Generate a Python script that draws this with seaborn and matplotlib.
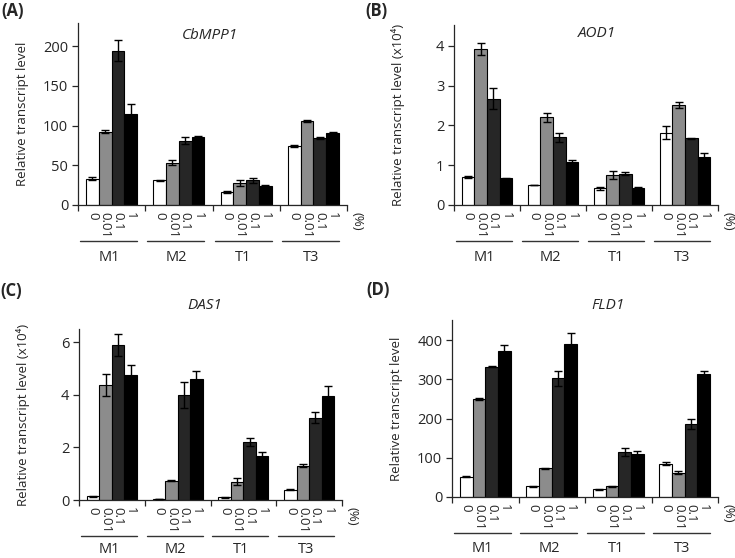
import numpy as np
import pandas as pd
import matplotlib
matplotlib.use("Agg")
import matplotlib.pyplot as plt
import matplotlib.transforms as mtransforms
import seaborn as sns

# ---------------- data ----------------
groups = ["M1", "M2", "T1", "T3"]
concs = ["0", "0.01", "0.1", "1"]
bar_colors = ["#ffffff", "#8c8c8c", "#262626", "#000000"]

cbmpp1_mean = [33, 92, 194, 114, 31, 53, 81, 85.5, 16.5, 27.5, 31, 24, 74, 106, 84, 91]
cbmpp1_err = [2, 2, 13, 13, 1, 3, 4, 1.5, 1, 4, 3, 1, 1, 1, 1, 1]
aod1_mean = [0.70, 3.92, 2.67, 0.67, 0.50, 2.20, 1.70, 1.07, 0.42, 0.75, 0.79, 0.42, 1.82, 2.51, 1.67, 1.20]
aod1_err = [0.03, 0.15, 0.27, 0.02, 0.01, 0.11, 0.12, 0.07, 0.04, 0.10, 0.04, 0.02, 0.17, 0.08, 0.02, 0.10]
das1_mean = [0.14, 4.37, 5.90, 4.75, 0.03, 0.74, 4.00, 4.60, 0.10, 0.70, 2.20, 1.68, 0.39, 1.31, 3.13, 3.97]
das1_err = [0.01, 0.42, 0.42, 0.37, 0.01, 0.01, 0.50, 0.30, 0.01, 0.13, 0.15, 0.15, 0.01, 0.04, 0.22, 0.35]
fld1_mean = [52, 250, 332, 373, 27, 73, 302, 390, 20, 27, 115, 110, 85, 62, 187, 313]
fld1_err = [1, 3, 1, 14, 1, 1, 20, 27, 1, 1, 10, 7, 3, 3, 13, 8]

ylabel_plain = "Relative transcript level"
ylabel_e4 = "Relative transcript level (x10\u2074)"

# ---------------- style ----------------
sns.set_style("ticks")
plt.rcParams["font.family"] = ["Open Sans", "DejaVu Sans"]
plt.rcParams["axes.linewidth"] = 0.9

W, H = 735, 558
fig = plt.figure(figsize=(W / 100, H / 100), dpi=100)

panels = [
    dict(mean=cbmpp1_mean, err=cbmpp1_err, box=(78, 347, 23, 205), ylim=229,
         yticks=[0, 50, 100, 150, 200], ylabel=ylabel_plain, title="CbMPP1",
         tpos=(0.49, 0.934), tag="(A)", tagpos=(1, 11), glab=-37.5),
    dict(mean=aod1_mean, err=aod1_err, box=(454, 718, 25, 205), ylim=4.52,
         yticks=[0, 1, 2, 3, 4], ylabel=ylabel_e4, title="AOD1",
         tpos=(0.543, 0.955), tag="(B)", tagpos=(365, 11), glab=-37.5),
    dict(mean=das1_mean, err=das1_err, box=(79, 342, 329, 500), ylim=6.5,
         yticks=[0, 2, 4, 6], ylabel=ylabel_e4, title="DAS1",
         tpos=(0.479, 1.135), tag="(C)", tagpos=(0, 291), glab=-35.5),
    dict(mean=fld1_mean, err=fld1_err, box=(452, 718, 320, 497), ylim=451,
         yticks=[0, 100, 200, 300, 400], ylabel=ylabel_plain, title="FLD1",
         tpos=(0.586, 1.08), tag="(D)", tagpos=(366, 290), glab=-37.0),
]

for p in panels:
    l, r, t, b = p["box"]
    ax = fig.add_axes([l / W, 1 - b / H, (r - l) / W, (b - t) / H])
    wpx = r - l
    df = pd.DataFrame({
        "group": np.repeat(groups, len(concs)),
        "conc": concs * len(groups),
        "value": p["mean"],
    })
    sns.barplot(data=df, x="group", y="value", hue="conc", order=groups,
                hue_order=concs, palette=bar_colors, edgecolor="black",
                linewidth=0.8, width=0.76, gap=0, errorbar=None, legend=False,
                ax=ax, zorder=2)
    # error bars + concentration labels
    xs, hs, es = [], [], []
    for i, cont in enumerate(ax.containers):
        for j, bar in enumerate(cont):
            xc = bar.get_x() + bar.get_width() / 2
            xs.append(xc)
            hs.append(bar.get_height())
            es.append(p["err"][j * len(concs) + i])
            ax.annotate(concs[i], xy=(xc, 0), xycoords=("data", "axes fraction"),
                        xytext=(0, -5), textcoords="offset points", rotation=270,
                        ha="center", va="top", fontsize=9.5, annotation_clip=False)
    ax.errorbar(xs, hs, yerr=es, fmt="none", ecolor="black", elinewidth=1.0,
                capsize=3, capthick=1.0, zorder=3)

    ax.set_xlim(-0.5, 3.5)
    ax.set_ylim(0, p["ylim"])
    ax.set_yticks(p["yticks"])
    ax.set_xticks([-0.5, 0.5, 1.5, 2.5, 3.5])
    ax.set_xticklabels([])
    ax.set_xlabel("")
    ax.tick_params(axis="y", direction="out", length=4, width=0.9, labelsize=10.5, pad=3)
    ax.tick_params(axis="x", direction="out", length=4, width=0.9)
    for s in ["top", "right"]:
        ax.spines[s].set_visible(False)
    ax.set_ylabel(p["ylabel"], fontsize=9.5)
    ax.yaxis.set_label_coords(-49 / wpx, 0.5)

    # (%) label
    ax.annotate("(%)", xy=(3.5, 0), xycoords=("data", "axes fraction"),
                xytext=(7, -5), textcoords="offset points", rotation=270,
                ha="center", va="top", fontsize=9.5, annotation_clip=False)

    # group lines and labels
    trans = mtransforms.blended_transform_factory(ax.transData, ax.transAxes)
    line_tr = mtransforms.offset_copy(trans, fig=fig, y=-26, units="points")
    for g, name in enumerate(groups):
        ax.plot([g - 0.47, g + 0.38], [0, 0], transform=line_tr, color="#333333",
                lw=1.0, clip_on=False)
        ax.annotate(name, xy=(g - 0.04, 0), xycoords=("data", "axes fraction"),
                    xytext=(0, p["glab"]), textcoords="offset points", ha="center",
                    va="center", fontsize=10.5, annotation_clip=False)

    ax.text(p["tpos"][0], p["tpos"][1], p["title"], transform=ax.transAxes,
            ha="center", va="center", fontsize=11, style="italic")
    fig.text(p["tagpos"][0] / W, 1 - p["tagpos"][1] / H, p["tag"], ha="left",
             va="center", fontsize=12, fontweight="bold")

fig.savefig("out.png", dpi=100)
